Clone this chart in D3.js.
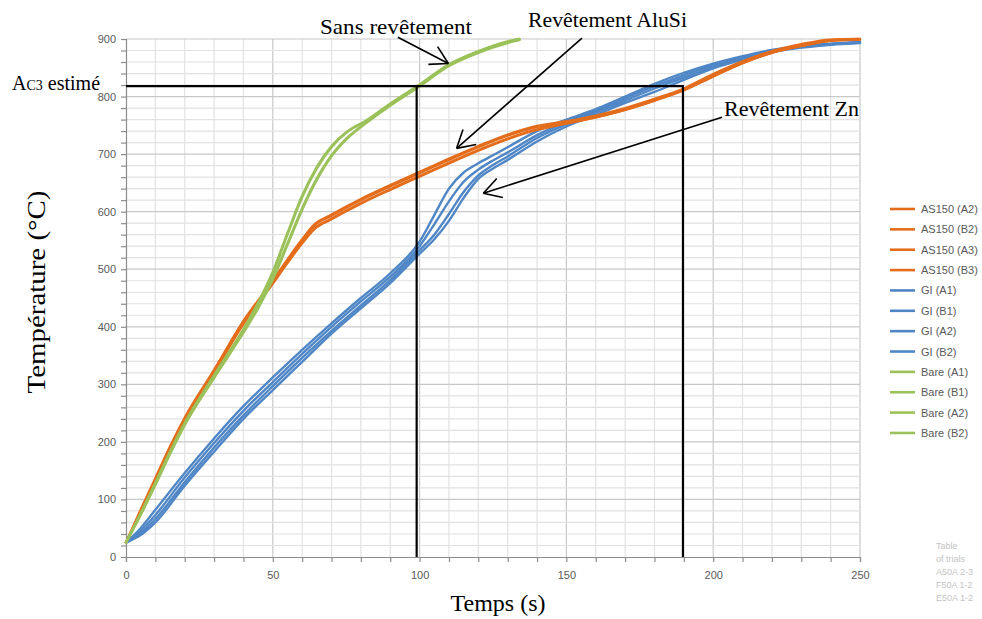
<!DOCTYPE html>
<html><head><meta charset="utf-8">
<script src="https://cdn.jsdelivr.net/npm/d3@7/dist/d3.min.js"></script>
<style>body{margin:0;background:#fff}svg{display:block}</style>
</head><body><svg id="c" width="982" height="619"></svg>
<script>
// ---------- DATA ----------
const xTicks = [0, 50, 100, 150, 200, 250];
const yTicks = [0, 100, 200, 300, 400, 500, 600, 700, 800, 900];

const timeAS = [0,5,10,15,20,30,40,50,55,60,64,70,80,90,100,110,120,130,140,150,160,170,180,190,200,210,220,230,240,250];
const as150A2 = [25,80,135,190,240,323,408,478,515,550,575,593,620,644,667,690,712,732,747,756,766,779,795,813,838,860,878,890,898,900];
const as150B2 = [25,78,132,187,237,320,405,475,511,545,569,587,614,638,661,684,706,726,742,753,764,777,793,811,835,858,876,888,897,899];
const as150A3 = [25,82,137,192,242,325,410,480,517,552,577,595,622,646,669,692,714,734,749,757,767,780,796,814,839,861,879,891,899,900];
const as150B3 = [25,79,133,188,238,321,406,476,512,546,570,588,615,639,662,685,707,727,743,754,764,777,793,811,835,858,876,888,897,899];

const timeGI = [0,5,10,20,30,40,50,60,70,80,90,100,105,110,115,120,125,130,140,150,160,170,180,190,200,210,220,230,240,250];
const giA1 = [25,50,82,146,206,262,312,360,406,450,493,548,594,640,668,684,698,712,740,760,778,800,822,841,857,870,881,888,892,895];
const giB1 = [25,45,73,138,198,254,304,353,400,444,487,540,578,618,652,673,689,703,733,756,775,797,818,837,854,868,880,887,891,894];
const giA2 = [25,41,66,130,190,246,297,346,393,437,481,533,560,596,634,663,681,696,728,752,772,793,814,833,851,866,878,886,891,894];
const giB2 = [25,38,60,124,183,240,290,339,388,432,476,527,552,584,624,657,675,690,722,748,768,789,808,829,849,864,877,885,890,893];

const timeBare = [0,5,10,15,20,30,40,45,50,55,60,65,70,75,78,80,90,100,110,120,130,134];
const bareA1 = [25,75,128,182,232,315,395,440,493,560,625,675,712,737,747,752,787,820,855,878,895,900];
const bareB1 = [25,74,126,180,230,312,391,434,484,545,606,658,698,727,740,748,785,818,854,877,894,899];
const bareA2 = [25,76,129,183,233,316,396,442,496,563,628,678,714,738,748,753,788,821,856,879,896,900];
const bareB2 = [25,73,125,179,229,311,390,432,482,542,603,655,696,725,739,747,784,818,853,876,893,898];

const seriesNames = ["AS150 (A2)","AS150 (B2)","AS150 (A3)","AS150 (B3)","GI (A1)","GI (B1)","GI (A2)","GI (B2)","Bare (A1)","Bare (B1)","Bare (A2)","Bare (B2)"];
const seriesTimes = [timeAS,timeAS,timeAS,timeAS,timeGI,timeGI,timeGI,timeGI,timeBare,timeBare,timeBare,timeBare];
const seriesValues = [as150A2,as150B2,as150A3,as150B3,giA1,giB1,giA2,giB2,bareA1,bareB1,bareA2,bareB2];
const seriesGroup = ["AS","AS","AS","AS","GI","GI","GI","GI","Bare","Bare","Bare","Bare"];

const ac3Temp = 818;          // A_C3 estimé
const ac3TimeBare = 99;       // crossing, bare
const ac3TimeCoated = 189.7;  // crossing, coated
const tableLines = ["Table","of trials","A50A 2-3","F50A 1-2","E50A 1-2"];

// ---------- STYLE ----------
const colors = {AS:"#e46d1c", GI:"#4f86c6", Bare:"#9bc25a"};
const serif = "'Liberation Serif', 'DejaVu Serif', serif";
const sans = "'Liberation Sans', Arial, sans-serif";

const svg = d3.select("#c");
const x = d3.scaleLinear().domain([0,250]).range([126,860]);
const y = d3.scaleLinear().domain([0,900]).range([557,39]);

// gridlines
const g = svg.append("g");
g.selectAll(".vmin").data(d3.range(10,251,10)).join("line")
  .attr("x1",d=>x(d)).attr("x2",d=>x(d)).attr("y1",y(0)).attr("y2",y(900))
  .attr("stroke",d=>d%50===0?"#c8c8c8":"#e2e2e2").attr("stroke-width",1.2);
g.selectAll(".hmin").data(d3.range(20,901,20)).join("line")
  .attr("x1",x(0)).attr("x2",x(250)).attr("y1",d=>y(d)).attr("y2",d=>y(d))
  .attr("stroke",d=>d%100===0?"#c8c8c8":"#e2e2e2").attr("stroke-width",1.2);

// axes
const ax = svg.append("g").attr("transform",`translate(0,${y(0)})`)
  .call(d3.axisBottom(x).tickValues(d3.range(0,251,10)).tickSize(5).tickFormat(""));
const axL = svg.append("g").attr("transform",`translate(${x(0)},0)`)
  .call(d3.axisLeft(y).tickValues(d3.range(0,901,20)).tickSize(5).tickFormat(""));
[ax,axL].forEach(a=>{a.selectAll("path,line").attr("stroke","#8c8c8c").attr("stroke-width",1.2);});
const axLab = svg.append("g").attr("transform",`translate(0,${y(0)})`)
  .call(d3.axisBottom(x).tickValues(xTicks).tickSize(0).tickPadding(14));
const ayLab = svg.append("g").attr("transform",`translate(${x(0)},0)`)
  .call(d3.axisLeft(y).tickValues(yTicks).tickSize(0).tickPadding(10));
[axLab,ayLab].forEach(a=>{a.select(".domain").remove();
  a.selectAll("text").attr("font-family",sans).attr("font-size",11).attr("fill","#595959");});

// series
const line = d3.line().x(d=>x(d[0])).y(d=>y(d[1])).curve(d3.curveMonotoneX);
const order = [4,5,6,7,0,1,2,3,8,9,10,11];
svg.append("g").selectAll("path").data(order).join("path")
  .attr("d",i=>line(seriesTimes[i].map((t,k)=>[t,seriesValues[i][k]])))
  .attr("fill","none").attr("stroke",i=>colors[seriesGroup[i]]).attr("stroke-width",2.4)
  .attr("stroke-linejoin","round").attr("stroke-linecap","round");

// AC3 lines
const ann = svg.append("g").attr("stroke","#000").attr("stroke-width",2.2).attr("fill","none");
ann.append("line").attr("x1",x(0)).attr("x2",x(ac3TimeCoated)+1).attr("y1",y(ac3Temp)).attr("y2",y(ac3Temp));
ann.append("line").attr("x1",x(ac3TimeBare)).attr("x2",x(ac3TimeBare)).attr("y1",y(ac3Temp)).attr("y2",y(0));
ann.append("line").attr("x1",x(ac3TimeCoated)).attr("x2",x(ac3TimeCoated)).attr("y1",y(ac3Temp)).attr("y2",y(0));

// arrows (data coordinates: from, to)
const arrows = [
  {from:[92.6,903], to:[109.8,857.5]},
  {from:[155.3,901.5], to:[112.6,710]},
  {from:[203,764], to:[121.7,632]}
];
const arr = svg.append("g").attr("stroke","#000").attr("stroke-width",1.6).attr("fill","none");
arrows.forEach(a=>{
  const x1=x(a.from[0]),y1=y(a.from[1]),x2=x(a.to[0]),y2=y(a.to[1]);
  arr.append("line").attr("x1",x1).attr("y1",y1).attr("x2",x2).attr("y2",y2);
  const ang=Math.atan2(y1-y2,x1-x2), L=20, da=Math.PI/6;
  [ang-da,ang+da].forEach(b=>arr.append("line").attr("x1",x2).attr("y1",y2)
     .attr("x2",x2+L*Math.cos(b)).attr("y2",y2+L*Math.sin(b)));
});

// annotation texts
const t = svg.append("g").attr("font-family",serif).attr("fill","#000");
t.append("text").attr("x",320).attr("y",34).attr("font-size",22).attr("textLength",152).attr("lengthAdjust","spacingAndGlyphs").text("Sans revêtement");
t.append("text").attr("x",528).attr("y",27).attr("font-size",22).attr("textLength",159).attr("lengthAdjust","spacingAndGlyphs").text("Revêtement AluSi");
t.append("text").attr("x",724).attr("y",116).attr("font-size",22).attr("textLength",135).attr("lengthAdjust","spacingAndGlyphs").text("Revêtement Zn");
const ac = t.append("text").attr("x",12).attr("y",90).attr("font-size",20);
ac.append("tspan").text("A");
ac.append("tspan").attr("font-size",14).text("C3");
ac.append("tspan").text(" estimé");

// axis titles
t.append("text").attr("x",498).attr("y",611).attr("text-anchor","middle").attr("font-size",24).text("Temps (s)");
t.append("text").attr("transform","translate(45,292) rotate(-90)").attr("text-anchor","middle").attr("font-size",26)
  .attr("textLength",203).attr("lengthAdjust","spacingAndGlyphs").text("Température (°C)");

// legend
const leg = svg.append("g").attr("font-family",sans).attr("font-size",11).attr("fill","#595959");
seriesNames.forEach((n,i)=>{
  const yy = 209 + i*20.36;
  leg.append("line").attr("x1",890).attr("x2",915).attr("y1",yy).attr("y2",yy)
    .attr("stroke",colors[seriesGroup[i]]).attr("stroke-width",2.6);
  leg.append("text").attr("x",921).attr("y",yy+4).text(n);
});

// table of trials
const tb = svg.append("g").attr("font-family",sans).attr("font-size",9).attr("fill","#c4c4c4");
tableLines.forEach((s,i)=>tb.append("text").attr("x",936).attr("y",549+i*13).text(s));
</script></body></html>
